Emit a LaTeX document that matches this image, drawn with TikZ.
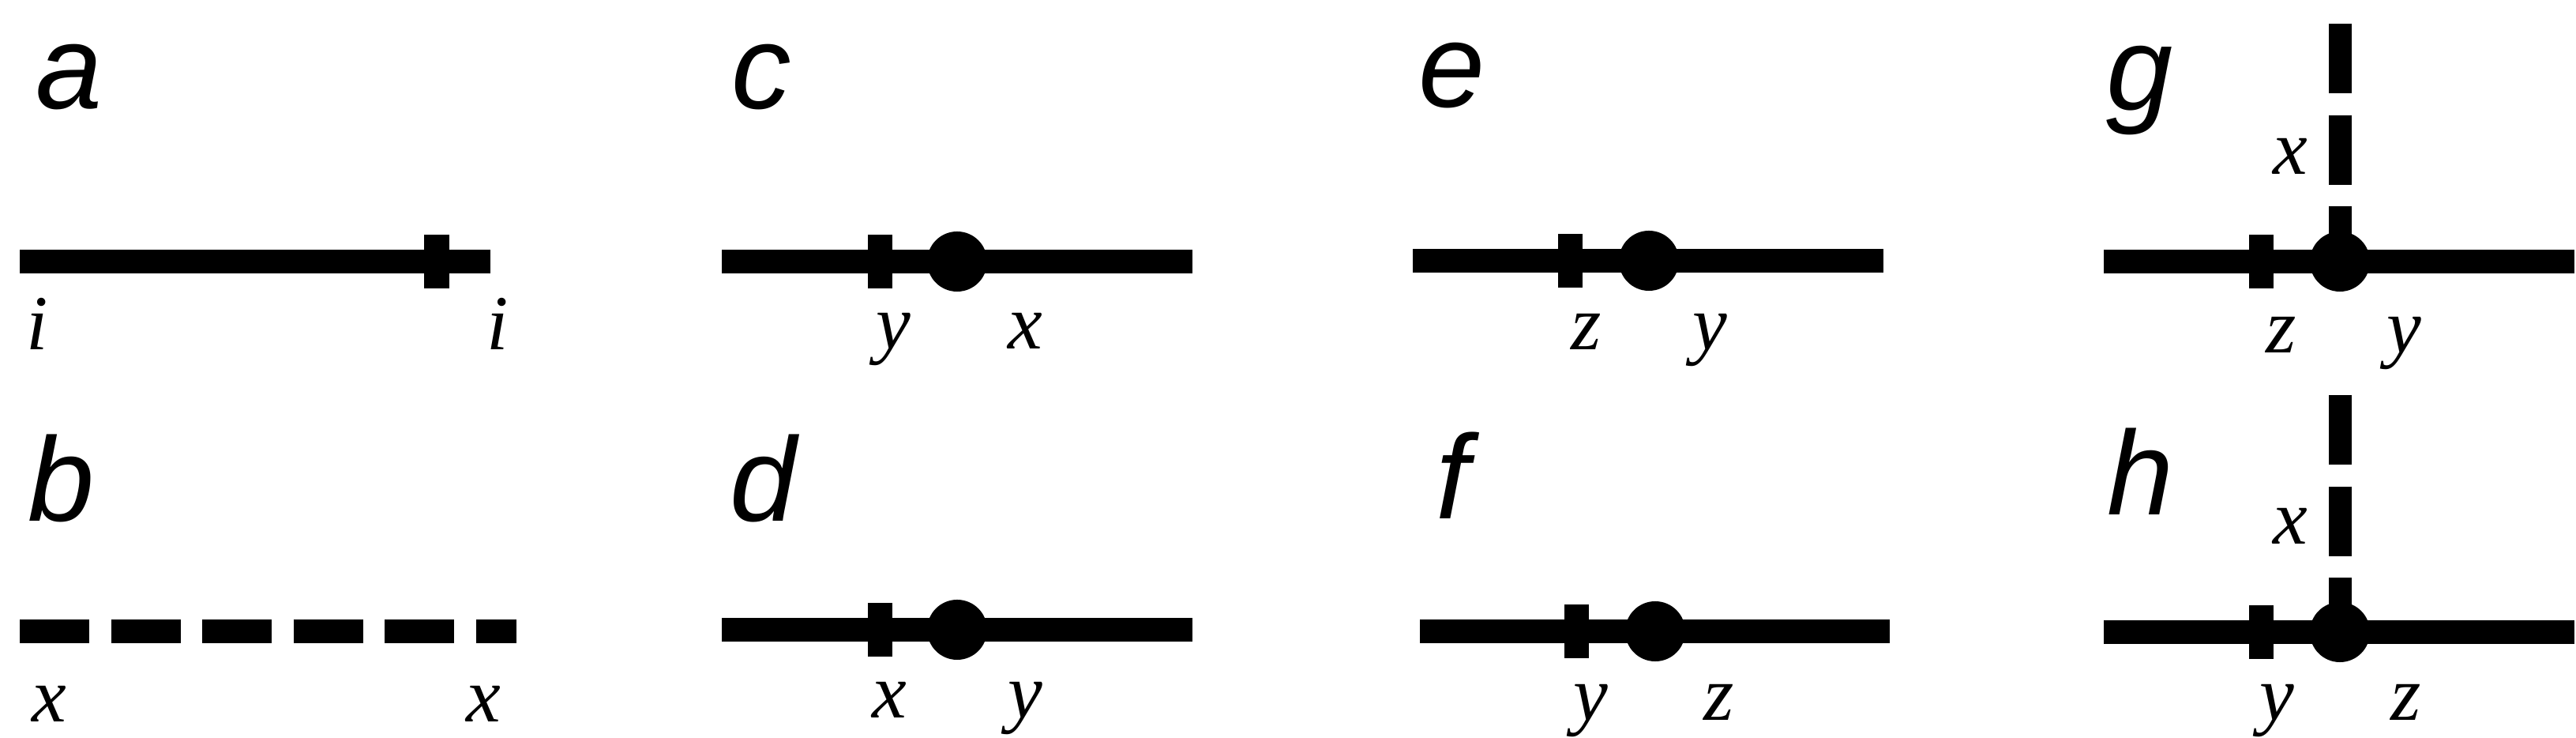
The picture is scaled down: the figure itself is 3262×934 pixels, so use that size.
\documentclass[tikz,border=0pt]{standalone}
\usepackage{fontspec}
\setmainfont{Liberation Serif}
\newfontfamily\panelfont{Liberation Sans}
\begin{document}
\begin{tikzpicture}[x=0.01cm,y=-0.01cm,
  fatline/.style={line width=0.29cm, line cap=butt},
  dashline/.style={fatline, dash pattern=on 0.88cm off 0.275cm},
  tickbox/.style={rectangle, fill=black, draw=none, minimum width=0.31cm, minimum height=0.68cm, inner sep=0pt},
  bigdot/.style={circle, fill=black, draw=none, minimum size=0.76cm, inner sep=0pt},
  panel/.style={font=\panelfont\itshape\fontsize{43}{43}\selectfont, anchor=base west, inner sep=0pt},
  lab/.style={font=\itshape\fontsize{28}{28}\selectfont, anchor=base, inner sep=0pt}]
\useasboundingbox (0,0) rectangle (3262,934);

% panel letters
\node[panel] (pa) at (45,138) {a};
\node[panel] (pb) at (35,660) {b};
\node[panel] (pc) at (926,138) {c};
\node[panel] (pd) at (924,660) {d};
\node[panel] (pe) at (1796,136) {e};
\node[panel] (pf) at (1818,657) {f};
\node[panel] (pg) at (2667,140) {g};
\node[panel] (ph) at (2668,652) {h};

% ---- a
\coordinate (a1) at (25,331);
\coordinate (a2) at (621,331);
\draw[fatline] (a1) -- (a2);
\node[tickbox] (at) at (553,331) {};
\node[lab] (la1) at (47,443) {i};
\node[lab] (la2) at (630,443) {i};

% ---- b
\coordinate (b1) at (25,799);
\coordinate (b2) at (654,799);
\draw[dashline] (b1) -- (b2);
\node[lab] (lb1) at (62,914) {x};
\node[lab] (lb2) at (612,914) {x};

% ---- c
\coordinate (c1) at (914,331);
\coordinate (c2) at (1510,331);
\draw[fatline] (c1) -- (c2);
\node[tickbox] (ct) at (1114,331) {};
\node[bigdot] (cd) at (1212,331) {};
\node[lab] (lc1) at (1131,442) {y};
\node[lab] (lc2) at (1298,442) {x};

% ---- d
\coordinate (d1) at (914,797);
\coordinate (d2) at (1510,797);
\draw[fatline] (d1) -- (d2);
\node[tickbox] (dt) at (1114,797) {};
\node[bigdot] (dd) at (1212,797) {};
\node[lab] (ld1) at (1126,909) {x};
\node[lab] (ld2) at (1298,909) {y};

% ---- e
\coordinate (e1) at (1789,330);
\coordinate (e2) at (2385,330);
\draw[fatline] (e1) -- (e2);
\node[tickbox] (et) at (1988,330) {};
\node[bigdot] (ed) at (2088,330) {};
\node[lab] (le1) at (2009,443) {z};
\node[lab] (le2) at (2165,443) {y};

% ---- f
\coordinate (f1) at (1798,799);
\coordinate (f2) at (2393,799);
\draw[fatline] (f1) -- (f2);
\node[tickbox] (ft) at (1996,799) {};
\node[bigdot] (fd) at (2096,799) {};
\node[lab] (lf1) at (2014,912) {y};
\node[lab] (lf2) at (2177,912) {z};

% ---- g
\coordinate (g1) at (2664,331);
\coordinate (g2) at (3260,331);
\coordinate (gtop) at (2963,30);
\draw[fatline] (g1) -- (g2);
\node[tickbox] (gt) at (2863,331) {};
\node[bigdot] (gd) at (2963,331) {};
\draw[dashline] (gtop) -- (gd.center);
\node[lab] (lg1) at (2889,447) {z};
\node[lab] (lg2) at (3044,447) {y};
\node[lab] (lg3) at (2900,221) {x};

% ---- h
\coordinate (h1) at (2664,800);
\coordinate (h2) at (3260,800);
\coordinate (htop) at (2963,500);
\draw[fatline] (h1) -- (h2);
\node[tickbox] (ht) at (2863,800) {};
\node[bigdot] (hd) at (2963,800) {};
\draw[dashline] (htop) -- (hd.center);
\node[lab] (lh1) at (2883,912) {y};
\node[lab] (lh2) at (3047,912) {z};
\node[lab] (lh3) at (2900,689) {x};
\end{tikzpicture}
\end{document}
